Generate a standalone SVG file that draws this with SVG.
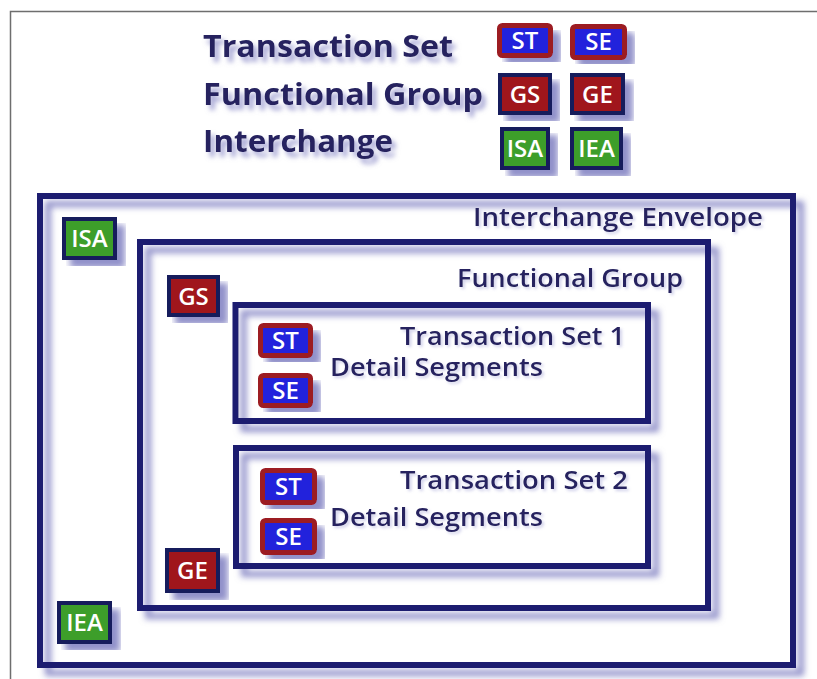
<svg xmlns="http://www.w3.org/2000/svg" width="817" height="679" viewBox="0 0 817 679">
<defs>
<filter id="sh" x="-10%" y="-10%" width="130%" height="130%">
<feGaussianBlur in="SourceAlpha" stdDeviation="3" result="b"/>
<feOffset in="b" dx="8" dy="8" result="o"/>
<feFlood flood-color="#8585c4" flood-opacity="0.9"/>
<feComposite in2="o" operator="in" result="s"/>
<feMerge><feMergeNode in="s"/><feMergeNode in="SourceGraphic"/></feMerge>
</filter>
<filter id="tsh" x="-10%" y="-30%" width="130%" height="180%">
<feGaussianBlur in="SourceAlpha" stdDeviation="2.5" result="b"/>
<feOffset in="b" dx="4" dy="5" result="o"/>
<feFlood flood-color="#8c8cc8" flood-opacity="0.8"/>
<feComposite in2="o" operator="in" result="s"/>
<feMerge><feMergeNode in="s"/><feMergeNode in="SourceGraphic"/></feMerge>
</filter>
<filter id="tsh2" x="-10%" y="-30%" width="130%" height="180%">
<feGaussianBlur in="SourceAlpha" stdDeviation="1.5" result="b"/>
<feOffset in="b" dx="2" dy="2" result="o"/>
<feFlood flood-color="#a0a0d4" flood-opacity="0.5"/>
<feComposite in2="o" operator="in" result="s"/>
<feMerge><feMergeNode in="s"/><feMergeNode in="SourceGraphic"/></feMerge>
</filter>
</defs>
<style>
.box{fill:none;stroke:#1a1a70;stroke-width:6;filter:url(#sh)}
.lbl{font-family:"Open Sans","DejaVu Sans",sans-serif;fill:#25235f}
.leg{font-size:30px;font-weight:bold;filter:url(#tsh)}
.in{font-size:25px;font-weight:600;filter:url(#tsh2)}
.bt{font-family:"Open Sans","DejaVu Sans",sans-serif;font-weight:600;fill:#ffffff;font-size:24px;text-anchor:middle}
.tsb{fill:#2424dc;stroke:#9c1a22;stroke-width:5;filter:url(#sh)}
.gb{fill:#a0141e;stroke:#161a5c;stroke-width:4;filter:url(#sh)}
.ib{fill:#3d9e2c;stroke:#161a5c;stroke-width:4;filter:url(#sh)}
</style>
<rect width="817" height="679" fill="#ffffff"/>
<path d="M10.5,679 V11.5 H817" fill="none" stroke="#6e6e6e" stroke-width="1.5"/>

<g id="legend">
<text class="lbl leg" x="203" y="57" textLength="250" lengthAdjust="spacingAndGlyphs">Transaction Set</text>
<text class="lbl leg" x="203" y="105" textLength="280" lengthAdjust="spacingAndGlyphs">Functional Group</text>
<text class="lbl leg" x="203" y="152" textLength="190" lengthAdjust="spacingAndGlyphs">Interchange</text>
</g>
<g id="leg-st"><rect class="tsb" x="499.5" y="25.5" width="51" height="30" rx="3"/><text class="bt" x="525" y="49">ST</text></g>
<g id="leg-se"><rect class="tsb" x="572.5" y="26.5" width="52" height="31" rx="3"/><text class="bt" x="598.5" y="50">SE</text></g>
<g id="leg-gs"><rect class="gb" x="500" y="75" width="50" height="38"/><text class="bt" x="525" y="103">GS</text></g>
<g id="leg-ge"><rect class="gb" x="572" y="75" width="51" height="38"/><text class="bt" x="597.5" y="103">GE</text></g>
<g id="leg-isa"><rect class="ib" x="502" y="129" width="46" height="39"/><text class="bt" x="525" y="157">ISA</text></g>
<g id="leg-iea"><rect class="ib" x="572" y="129" width="49" height="39"/><text class="bt" x="596.5" y="157">IEA</text></g>

<g id="interchange">
<rect class="box" x="40" y="196" width="753" height="469"/>
<text class="lbl in" x="473" y="226" textLength="290" lengthAdjust="spacingAndGlyphs">Interchange Envelope</text>
</g>
<g id="isa"><rect class="ib" x="64" y="219" width="51" height="39"/><text class="bt" x="89.5" y="247">ISA</text></g>
<g id="iea"><rect class="ib" x="59" y="603" width="51" height="39"/><text class="bt" x="84.5" y="631">IEA</text></g>

<g id="functional-group">
<rect class="box" x="140" y="242" width="568" height="366"/>
<text class="lbl in" x="457" y="287" textLength="226" lengthAdjust="spacingAndGlyphs">Functional Group</text>
</g>
<g id="gs"><rect class="gb" x="169" y="277" width="49" height="38"/><text class="bt" x="193.5" y="305">GS</text></g>
<g id="ge"><rect class="gb" x="167" y="550" width="51" height="41"/><text class="bt" x="192.5" y="579">GE</text></g>

<g id="transaction-set-1">
<rect class="box" x="235.5" y="305" width="412.5" height="116"/>
<text class="lbl in" x="400" y="345" textLength="225" lengthAdjust="spacingAndGlyphs">Transaction Set 1</text>
<text class="lbl in" x="330" y="376" textLength="213" lengthAdjust="spacingAndGlyphs">Detail Segments</text>
</g>
<g id="st1"><rect class="tsb" x="260.5" y="325.5" width="50" height="30" rx="3"/><text class="bt" x="285.5" y="349">ST</text></g>
<g id="se1"><rect class="tsb" x="260.5" y="375.5" width="50" height="30" rx="3"/><text class="bt" x="285.5" y="399">SE</text></g>

<g id="transaction-set-2">
<rect class="box" x="236" y="448" width="412" height="118"/>
<text class="lbl in" x="400" y="489" textLength="228" lengthAdjust="spacingAndGlyphs">Transaction Set 2</text>
<text class="lbl in" x="330" y="526" textLength="213" lengthAdjust="spacingAndGlyphs">Detail Segments</text>
</g>
<g id="st2"><rect class="tsb" x="262.5" y="470.5" width="52" height="32" rx="3"/><text class="bt" x="288.5" y="495">ST</text></g>
<g id="se2"><rect class="tsb" x="262.5" y="520.5" width="52" height="32" rx="3"/><text class="bt" x="288.5" y="545">SE</text></g>

<g id="connectors"/>
</svg>
